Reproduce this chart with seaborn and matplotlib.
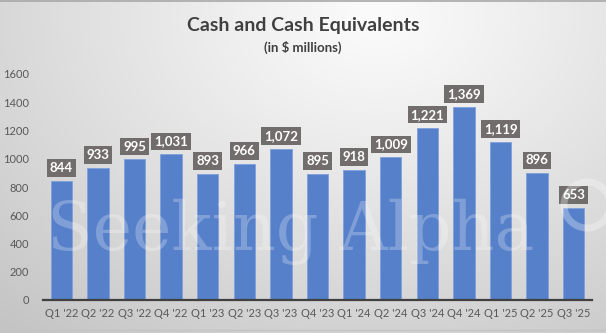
import numpy as np
import pandas as pd
import matplotlib
matplotlib.use("Agg")
import matplotlib.pyplot as plt
from matplotlib.patches import Ellipse
import seaborn as sns

quarters = ["Q1 '22", "Q2 '22", "Q3 '22", "Q4 '22", "Q1 '23", "Q2 '23", "Q3 '23",
            "Q4 '23", "Q1 '24", "Q2 '24", "Q3 '24", "Q4 '24", "Q1 '25", "Q2 '25", "Q3 '25"]
cash = [844, 933, 995, 1031, 893, 966, 1072, 895, 918, 1009, 1221, 1369, 1119, 896, 653]
yticks = [0, 200, 400, 600, 800, 1000, 1200, 1400, 1600]

df = pd.DataFrame({"quarter": quarters, "cash": cash})

sns.set_theme(style="white")
plt.rcParams["font.family"] = ["Lato", "DejaVu Sans"]

fig = plt.figure(figsize=(6.06, 3.33), dpi=100)

# radial grey gradient backdrop
bg = fig.add_axes([0, 0, 1, 1], zorder=-10)
h, w = 333, 606
yy, xx = np.mgrid[0:h, 0:w]
cx, cy = 0.62 * w, 0.05 * h
d = np.sqrt(((xx - cx) / w) ** 2 + ((yy - cy) / h * 0.75) ** 2)
d = d / d.max()
val = 0.985 - 0.22 * d ** 1.1
img = np.dstack([val, val, val])
bg.imshow(img, aspect="auto", extent=[0, 1, 0, 1], origin="upper")
bg.set_xlim(0, 1)
bg.set_ylim(0, 1)
bg.axis("off")
# thin frame lines along the top and bottom edges
bg.plot([0, 1], [0.997, 0.997], color="#a8a8a8", lw=1.2)
bg.plot([0, 1], [0.008, 0.008], color="#c4c4c4", lw=1.0)

ax = fig.add_axes([43 / 606, 1 - 300 / 333, (592 - 43) / 606, (300 - 74) / 333])
ax.patch.set_alpha(0)

sns.barplot(data=df, x="quarter", y="cash", color="#5680C9", width=0.58,
            saturation=1, edgecolor="#7fa0dc", linewidth=0.6, ax=ax, zorder=2)

ax.set_xlim(-0.5, len(quarters) - 0.5)
ax.set_ylim(0, 1600)
ax.set_yticks(yticks)
ax.set_yticklabels([str(t) for t in yticks])
ax.set_xlabel("")
ax.set_ylabel("")
ax.tick_params(axis="both", length=0, labelsize=8, labelcolor="#595959")
ax.tick_params(axis="y", pad=10)
ax.tick_params(axis="x", pad=6)
for s in ["top", "right", "left"]:
    ax.spines[s].set_visible(False)
ax.spines["bottom"].set_color("#404040")
ax.spines["bottom"].set_linewidth(1.6)
ax.spines["bottom"].set_zorder(5)

for i, v in enumerate(cash):
    ax.annotate(f"{v:,}", xy=(i, v), xytext=(0, 5), textcoords="offset points",
                ha="center", va="bottom", color="white", fontsize=9.5,
                fontweight="bold", zorder=6,
                bbox=dict(boxstyle="square,pad=0.22", fc="#716d6c", ec="none"))

fig.text(0.5, 1 - 25 / 333, "Cash and Cash Equivalents", ha="center", va="center",
         fontsize=14, fontweight="bold", color="#404040")
fig.text(0.5, 1 - 47 / 333, "(in $ millions)", ha="center", va="center",
         fontsize=9.5, fontweight="bold", color="#404040")

# faint watermark across the bars, with its round logo running off the right edge
fig.text(47 / 606, 1 - 232 / 333, "Seeking Alpha", ha="left", va="center",
         fontsize=48, family="DejaVu Serif", color="white", alpha=0.25, zorder=20)
fig.patches.append(Ellipse((587 / 606, 1 - 205 / 333), 46 / 606, 46 / 333,
                           fill=False, ec="white", lw=5, alpha=0.3,
                           transform=fig.transFigure, zorder=20))

fig.savefig("out.png", dpi=100)
